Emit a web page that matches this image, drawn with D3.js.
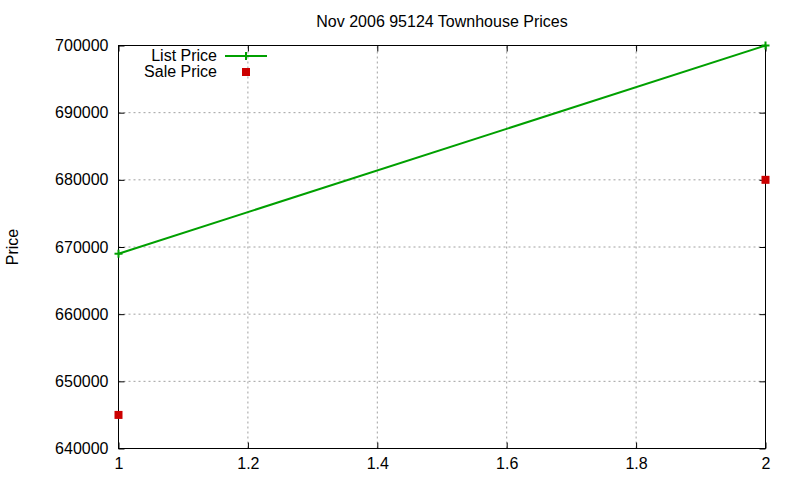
<!DOCTYPE html>
<html>
<head>
<meta charset="utf-8">
<script src="https://cdn.jsdelivr.net/npm/d3@7"></script>
<style>
  body { margin: 0; background: #fff; }
  svg text { font-family: "Liberation Sans", Arial, sans-serif; fill: #000; }
</style>
</head>
<body>
<script>
// Chart data
const xValues = [1, 2];
const listPrice = [669000, 700000];
const salePrice = [645000, 680000];
const xTicks = [1, 1.2, 1.4, 1.6, 1.8, 2];
const yTicks = [640000, 650000, 660000, 670000, 680000, 690000, 700000];

const width = 800;
const height = 480;
const margin = { top: 45.5, right: 34.5, bottom: 31.5, left: 118.5 };
const fontSize = 16;

const svg = d3.select("body").append("svg")
    .attr("width", width)
    .attr("height", height);

const xScale = d3.scaleLinear()
    .domain([1, 2])
    .range([margin.left, width - margin.right]);

const yScale = d3.scaleLinear()
    .domain([640000, 700000])
    .range([height - margin.bottom, margin.top]);

// Grid lines
svg.append("g").selectAll("line")
    .data(xTicks.slice(1, -1))
    .join("line")
    .attr("x1", d => xScale(d)).attr("x2", d => xScale(d))
    .attr("y1", yScale(640000)).attr("y2", yScale(700000))
    .attr("stroke", "#a0a0a0").attr("stroke-dasharray", "2,3");

svg.append("g").selectAll("line")
    .data(yTicks.slice(1, -1))
    .join("line")
    .attr("x1", xScale(1)).attr("x2", xScale(2))
    .attr("y1", d => yScale(d)).attr("y2", d => yScale(d))
    .attr("stroke", "#a0a0a0").attr("stroke-dasharray", "2,3");

// Axes with inward ticks
const bottomAxis = d3.axisBottom(xScale).tickValues(xTicks).tickSize(-6).tickPadding(9)
    .tickFormat(d3.format("~g"));
const topAxis = d3.axisTop(xScale).tickValues(xTicks).tickSize(-6).tickFormat("");
const leftAxis = d3.axisLeft(yScale).tickValues(yTicks).tickSize(-6).tickPadding(10)
    .tickFormat(d3.format("d"));
const rightAxis = d3.axisRight(yScale).tickValues(yTicks).tickSize(-6).tickFormat("");

function styleAxis(g) {
    g.select(".domain").remove();
    g.selectAll("line").attr("stroke", "#000");
    g.selectAll("text").attr("font-size", fontSize);
}

svg.append("g").attr("transform", `translate(0,${height - margin.bottom})`).call(bottomAxis).call(styleAxis);
svg.append("g").attr("transform", `translate(0,${margin.top})`).call(topAxis).call(styleAxis);
svg.append("g").attr("transform", `translate(${margin.left},0)`).call(leftAxis).call(styleAxis);
svg.append("g").attr("transform", `translate(${width - margin.right},0)`).call(rightAxis).call(styleAxis);

// Border
svg.append("rect")
    .attr("x", margin.left).attr("y", margin.top)
    .attr("width", width - margin.left - margin.right)
    .attr("height", height - margin.top - margin.bottom)
    .attr("fill", "none").attr("stroke", "#000");

// Title and axis label
svg.append("text")
    .attr("x", (margin.left + width - margin.right) / 2)
    .attr("y", 27)
    .attr("text-anchor", "middle")
    .attr("font-size", fontSize)
    .text("Nov 2006 95124 Townhouse Prices");

svg.append("text")
    .attr("transform", "rotate(-90)")
    .attr("x", -247)
    .attr("y", 18)
    .attr("text-anchor", "middle")
    .attr("font-size", fontSize)
    .text("Price");

const green = "#00a000";
const red = "#cc0000";

// List price line with + markers
const listData = xValues.map((x, i) => ({ x, y: listPrice[i] }));
svg.append("path")
    .datum(listData)
    .attr("d", d3.line().x(d => xScale(d.x)).y(d => yScale(d.y)))
    .attr("fill", "none")
    .attr("stroke", green)
    .attr("stroke-width", 2);

function plus(g, cx, cy) {
    g.append("line").attr("x1", cx - 4).attr("x2", cx + 4).attr("y1", cy).attr("y2", cy)
        .attr("stroke", green).attr("stroke-width", 2);
    g.append("line").attr("x1", cx).attr("x2", cx).attr("y1", cy - 4).attr("y2", cy + 4)
        .attr("stroke", green).attr("stroke-width", 2);
}
const markers = svg.append("g");
listData.forEach(d => plus(markers, xScale(d.x), yScale(d.y)));

// Sale price squares
svg.append("g").selectAll("rect")
    .data(xValues.map((x, i) => ({ x, y: salePrice[i] })))
    .join("rect")
    .attr("x", d => xScale(d.x) - 4)
    .attr("y", d => yScale(d.y) - 4)
    .attr("width", 8)
    .attr("height", 8)
    .attr("fill", red);

// Legend
const legend = svg.append("g");
legend.append("text").attr("x", 217).attr("y", 61).attr("text-anchor", "end")
    .attr("font-size", fontSize).text("List Price");
legend.append("line").attr("x1", 225).attr("x2", 267).attr("y1", 56).attr("y2", 56)
    .attr("stroke", green).attr("stroke-width", 2);
plus(legend, 246, 56);
legend.append("text").attr("x", 217).attr("y", 77).attr("text-anchor", "end")
    .attr("font-size", fontSize).text("Sale Price");
legend.append("rect").attr("x", 242).attr("y", 68).attr("width", 8).attr("height", 8)
    .attr("fill", red);
</script>
</body>
</html>
